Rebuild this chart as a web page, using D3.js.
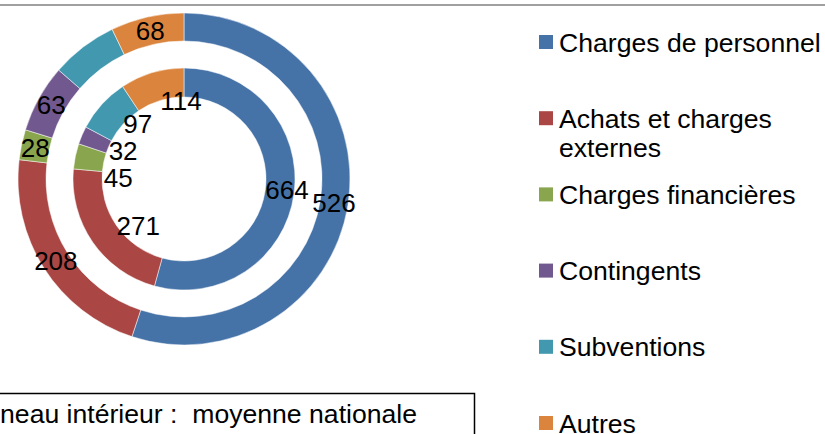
<!DOCTYPE html>
<meta charset="utf-8" />
<script src="https://d3js.org/d3.v7.min.js"></script>
<style>
  body { margin: 0; background: #fff; }
  text { font-family: "Liberation Sans", Arial, sans-serif; }
</style>
<body>
<div id="my_dataviz"></div>
<script>
  // categories, in legend order
  var categories = [
    "Charges de personnel",
    "Achats et charges externes",
    "Charges financières",
    "Contingents",
    "Subventions",
    "Autres",
  ];
  var colors = ["#4572a7", "#aa4643", "#89a54e", "#71588f", "#4198af", "#db843d"];
  // inner ring : moyenne nationale
  var innerValues = [664, 271, 45, 32, 97, 114];
  // outer ring (subventions not labelled in the picture, estimated from the angle)
  var outerValues = [526, 208, 28, 63, 62, 68];
  var outerShowLabel = [true, true, true, true, false, true];
  // legend labels broken into lines as in the picture
  var legendLines = [
    ["Charges de personnel"],
    ["Achats et charges", "externes"],
    ["Charges financières"],
    ["Contingents"],
    ["Subventions"],
    ["Autres"],
  ];
  var noteText = "Anneau intérieur :  moyenne nationale";

  var width = 825, height = 434;
  var cx = 184, cy = 179;
  var rings = {
    inner: { r0: 82, r1: 111 },
    outer: { r0: 138, r1: 166 },
  };
  var labelSize = 26;

  var svg = d3.select("#my_dataviz").append("svg")
    .attr("width", width).attr("height", height);

  // top border line of the chart area
  svg.append("line")
    .attr("x1", 0).attr("x2", width).attr("y1", 5).attr("y2", 5)
    .attr("stroke", "#a0a0a0").attr("stroke-width", 2);

  var pie = d3.pie().sort(null).value(function (d) { return d; });

  var g = svg.append("g").attr("transform", "translate(" + cx + "," + cy + ")");

  function drawRing(values, ring, cls) {
    var arcs = pie(values);
    var arcGen = d3.arc().innerRadius(ring.r0).outerRadius(ring.r1);
    g.append("g").attr("class", cls)
      .selectAll("path")
      .data(arcs)
      .enter()
      .append("path")
      .attr("d", arcGen)
      .attr("fill", function (d, i) { return colors[i]; })
      .attr("stroke", "#fff")
      .attr("stroke-width", 0.5);
    return arcs;
  }

  var innerArcs = drawRing(innerValues, rings.inner, "inner");
  var outerArcs = drawRing(outerValues, rings.outer, "outer");

  // outer labels at the centroid of each segment
  var outerArc = d3.arc().innerRadius(rings.outer.r0).outerRadius(rings.outer.r1);
  g.append("g").selectAll("text")
    .data(outerArcs.filter(function (d, i) { return outerShowLabel[i]; }))
    .enter()
    .append("text")
    .attr("x", function (d) { return outerArc.centroid(d)[0]; })
    .attr("y", function (d) { return outerArc.centroid(d)[1]; })
    .attr("dy", "0.35em")
    .attr("text-anchor", "middle")
    .style("font-size", labelSize + "px")
    .attr("fill", "#000")
    .text(function (d) { return d.value; });

  // inner labels hang from the inner edge of the ring,
  // then pushed down a bit when they collide (top to bottom on the left side)
  var innerEdge = d3.arc().innerRadius(rings.inner.r0).outerRadius(rings.inner.r0);
  var innerLabels = innerArcs.map(function (d) {
    var c = innerEdge.centroid(d);
    var w = String(d.value).length * 0.556 * labelSize;
    return { value: d.value, x: c[0], y: c[1], w: w, left: c[0] < 0 };
  });
  var leftSide = innerLabels.filter(function (l) { return l.left; })
    .sort(function (a, b) { return a.y - b.y; });
  for (var i = 1; i < leftSide.length; i++) {
    var prev = leftSide[i - 1], cur = leftSide[i];
    var overlapX = cur.x < prev.x + prev.w && prev.x < cur.x + cur.w;
    if (overlapX && cur.y - prev.y < 27) cur.y = prev.y + 27;
  }
  g.append("g").selectAll("text")
    .data(innerLabels)
    .enter()
    .append("text")
    .attr("x", function (d) { return d.x; })
    .attr("y", function (d) { return d.y; })
    .attr("dy", "0.35em")
    .attr("text-anchor", "start")
    .style("font-size", labelSize + "px")
    .attr("fill", "#000")
    .text(function (d) { return d.value; });

  // legend
  var legend = svg.append("g").attr("transform", "translate(539,0)");
  var ly = d3.scalePoint().domain(categories).range([42, 423]);
  var item = legend.selectAll("g")
    .data(categories)
    .enter()
    .append("g")
    .attr("transform", function (d) { return "translate(0," + ly(d) + ")"; });
  item.append("rect")
    .attr("x", 0).attr("y", -7).attr("width", 14).attr("height", 14)
    .attr("fill", function (d, i) { return colors[i]; });
  item.append("text")
    .attr("x", 20)
    .attr("y", 9.5)
    .style("font-size", "26.6px")
    .attr("fill", "#000")
    .selectAll("tspan")
    .data(function (d, i) { return legendLines[i]; })
    .enter()
    .append("tspan")
    .attr("x", 20)
    .attr("dy", function (d, j) { return j === 0 ? 0 : 29; })
    .text(function (d) { return d; });

  // note box at the bottom
  svg.append("path")
    .attr("d", "M0,393.5H474.5V" + height)
    .attr("fill", "none")
    .attr("stroke", "#000")
    .attr("stroke-width", 1.5);
  svg.append("text")
    .attr("x", 417)
    .attr("y", 423)
    .attr("text-anchor", "end")
    .style("font-size", "26.6px")
    .style("white-space", "pre")
    .attr("fill", "#000")
    .text(noteText);
</script>
</body>
